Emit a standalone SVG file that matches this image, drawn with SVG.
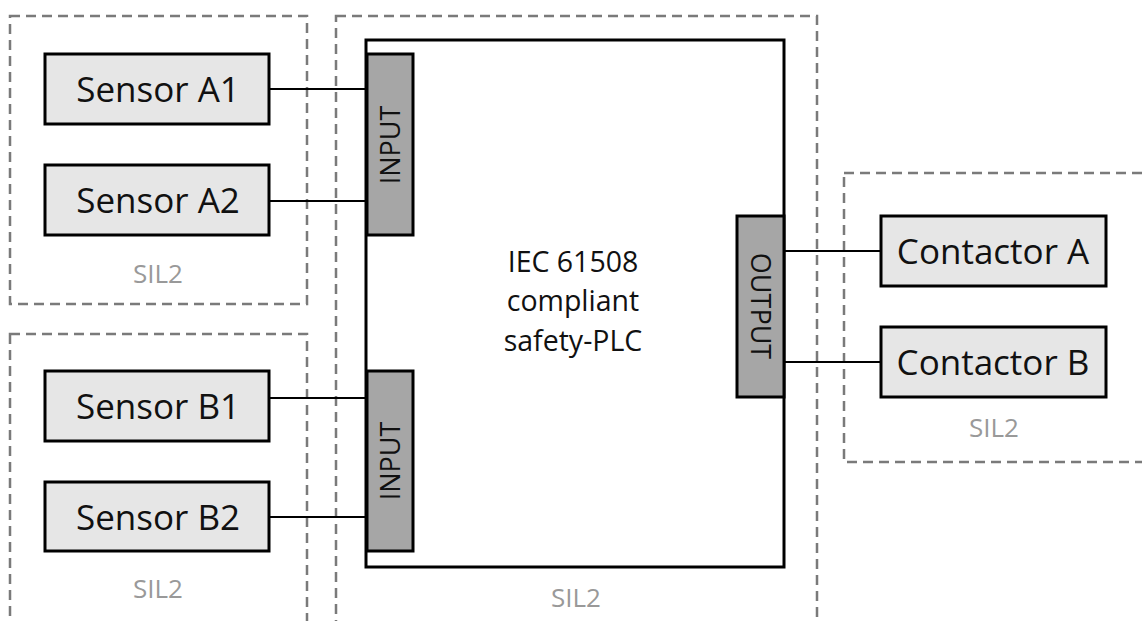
<svg xmlns="http://www.w3.org/2000/svg" width="1142" height="621" viewBox="0 0 1142 621">
<style>
.zone{fill:none;stroke:#7a7a7a;stroke-width:2.5;stroke-dasharray:10 6}
.dev{fill:#e6e6e6;stroke:#000;stroke-width:3}
.io{fill:#a6a6a6;stroke:#000;stroke-width:3}
.plc{fill:#fff;stroke:#000;stroke-width:3}
.lbl{font-family:"Open Sans","Liberation Sans",sans-serif;font-size:35px;fill:#111;text-anchor:middle}
.iol{font-family:"Open Sans","Liberation Sans",sans-serif;font-size:27px;fill:#111;text-anchor:middle}
.plct{font-family:"Open Sans","Liberation Sans",sans-serif;font-size:28.5px;fill:#111;text-anchor:middle}
.sil{font-family:"Open Sans","Liberation Sans",sans-serif;font-size:26px;fill:#999;text-anchor:middle}
.wire{stroke:#000;stroke-width:2.2;fill:none}
</style>
<rect width="1142" height="621" fill="#fff"/>
<g id="zone-a">
<rect class="zone" x="10" y="16" width="297" height="288"/>
<text class="sil" x="158" y="283">SIL2</text>
</g>
<g id="zone-b">
<rect class="zone" x="10" y="334" width="297" height="300"/>
<text class="sil" x="158" y="598">SIL2</text>
</g>
<g id="zone-plc">
<rect class="zone" x="336" y="16" width="481" height="618"/>
<text class="sil" x="576" y="607">SIL2</text>
</g>
<g id="zone-c">
<rect class="zone" x="844" y="173" width="310" height="289"/>
<text class="sil" x="994" y="437">SIL2</text>
</g>
<g id="connectors">
<line class="wire" x1="269" y1="89" x2="367" y2="89"/>
<line class="wire" x1="269" y1="201" x2="367" y2="201"/>
<line class="wire" x1="269" y1="398" x2="367" y2="398"/>
<line class="wire" x1="269" y1="517" x2="367" y2="517"/>
<line class="wire" x1="784" y1="251" x2="881" y2="251"/>
<line class="wire" x1="784" y1="362" x2="881" y2="362"/>
</g>
<g id="plc">
<rect class="plc" x="366" y="40" width="418" height="527"/>
<text class="plct" x="573" y="272">IEC 61508</text>
<text class="plct" x="573" y="311">compliant</text>
<text class="plct" x="573" y="351">safety-PLC</text>
</g>
<g id="input-a">
<rect class="io" x="367" y="54" width="46" height="181"/>
<text class="iol" transform="translate(399.5,145) rotate(-90)">INPUT</text>
</g>
<g id="input-b">
<rect class="io" x="367" y="371" width="46" height="180"/>
<text class="iol" transform="translate(399.5,461) rotate(-90)">INPUT</text>
</g>
<g id="output">
<rect class="io" x="737" y="216" width="47" height="181"/>
<text class="iol" transform="translate(751,306) rotate(90)">OUTPUT</text>
</g>
<g id="sensor-a1">
<rect class="dev" x="45" y="54" width="224" height="70"/>
<text class="lbl" x="158" y="101.5">Sensor A1</text>
</g>
<g id="sensor-a2">
<rect class="dev" x="45" y="165" width="224" height="70"/>
<text class="lbl" x="158" y="212.5">Sensor A2</text>
</g>
<g id="sensor-b1">
<rect class="dev" x="45" y="371" width="224" height="70"/>
<text class="lbl" x="158" y="418.5">Sensor B1</text>
</g>
<g id="sensor-b2">
<rect class="dev" x="45" y="482" width="224" height="69"/>
<text class="lbl" x="158" y="529.5">Sensor B2</text>
</g>
<g id="contactor-a">
<rect class="dev" x="881" y="216" width="225" height="70"/>
<text class="lbl" x="993" y="263.5">Contactor A</text>
</g>
<g id="contactor-b">
<rect class="dev" x="881" y="327" width="225" height="70"/>
<text class="lbl" x="993" y="374.5">Contactor B</text>
</g>
</svg>
